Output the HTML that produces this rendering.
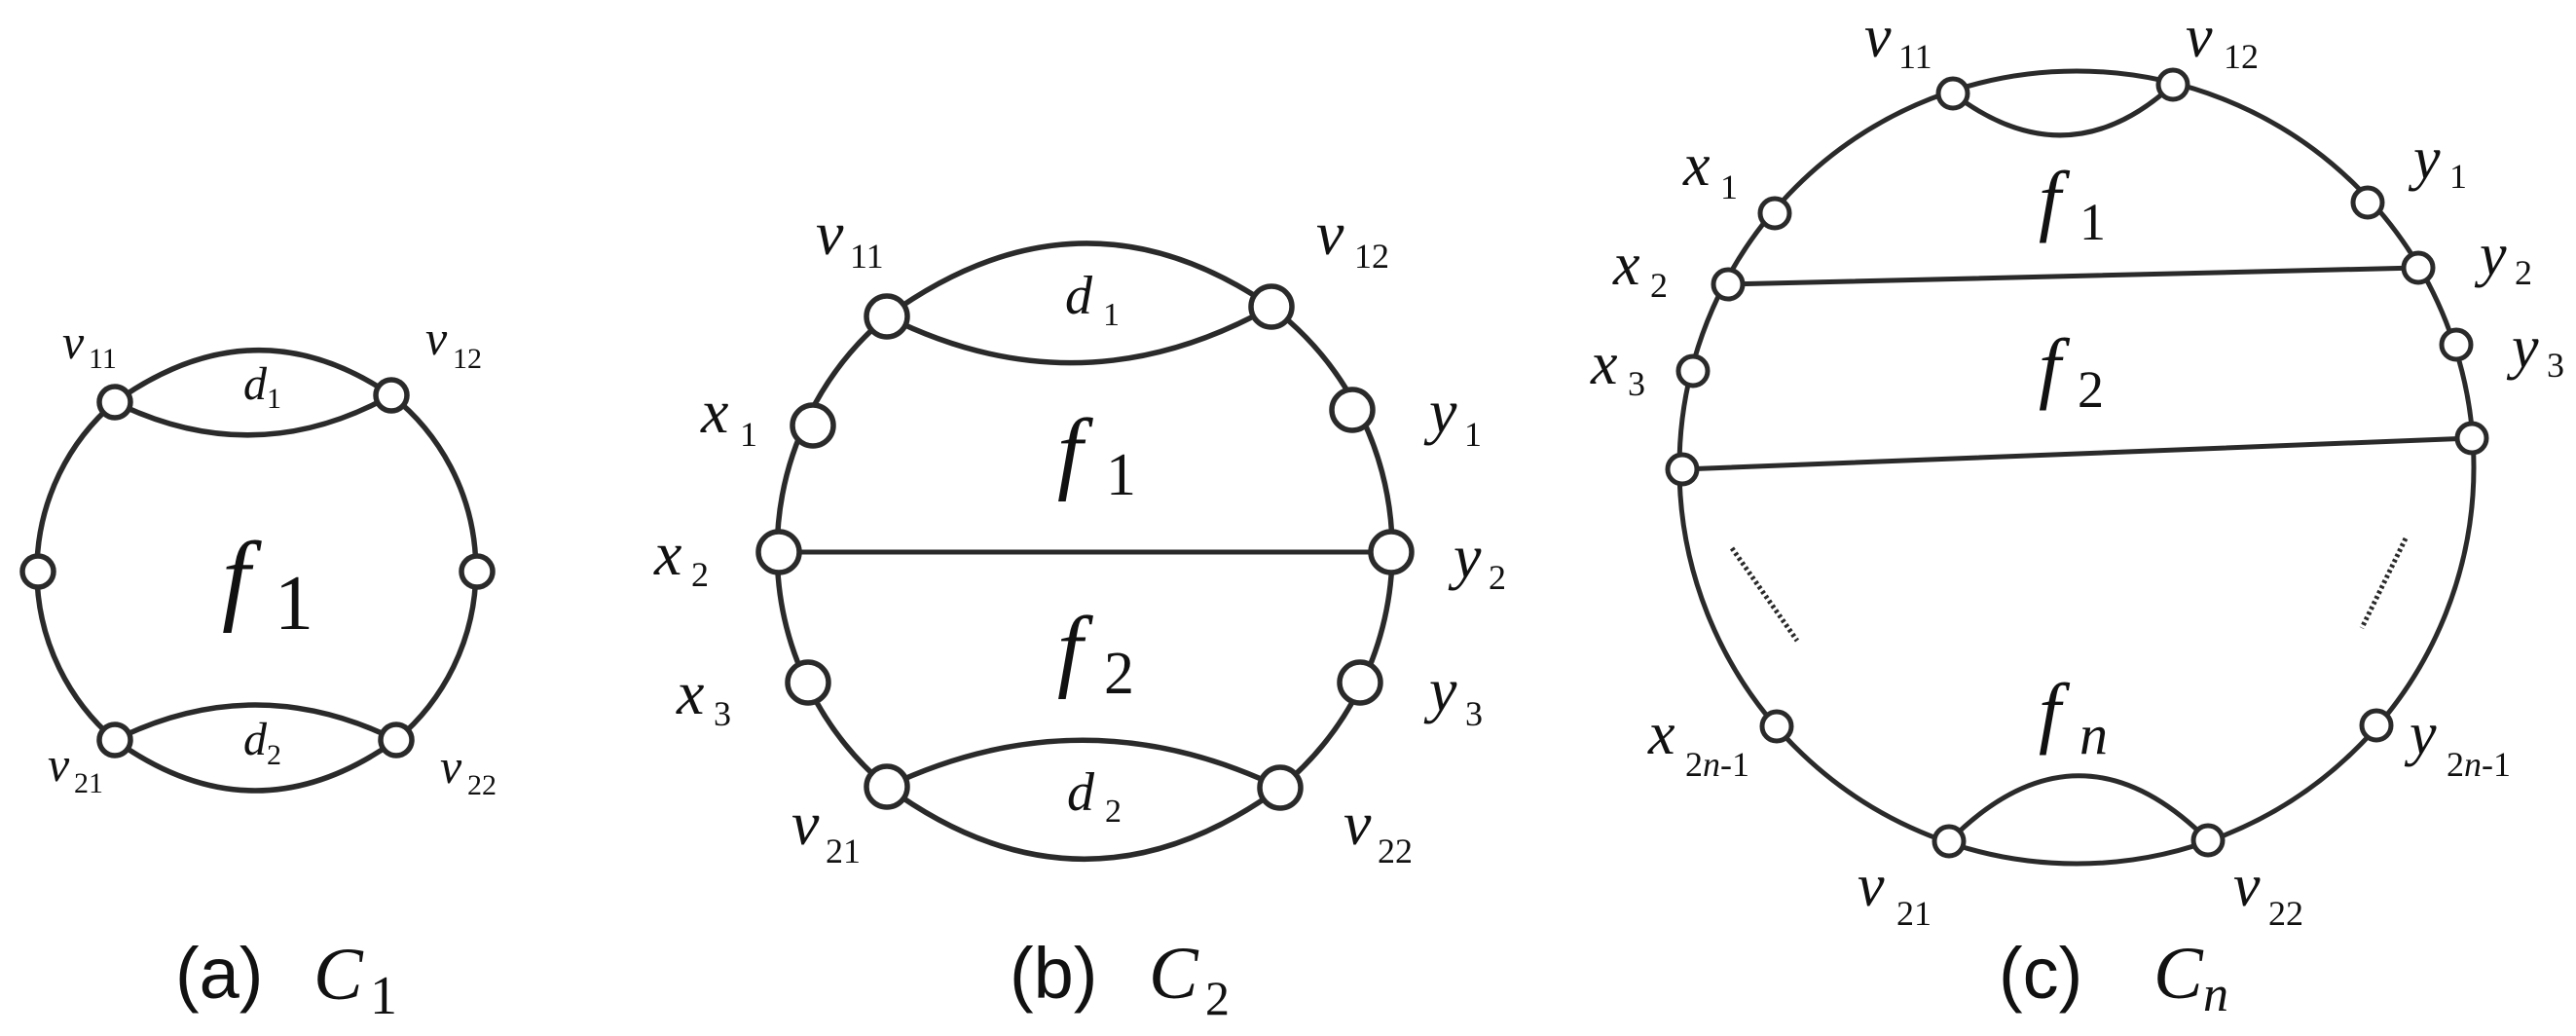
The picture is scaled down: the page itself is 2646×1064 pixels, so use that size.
<!DOCTYPE html>
<html><head><meta charset="utf-8"><style>
html,body{margin:0;padding:0;background:#fff;}
svg{display:block;}
svg text{font-family:"Liberation Serif","DejaVu Serif","Times New Roman",serif !important;font-style:italic;fill:#111;}
svg text.cap{font-family:"Liberation Sans","DejaVu Sans",Arial,sans-serif !important;font-style:normal;}
svg text.up{font-style:normal;}
</style></head><body>
<svg width="2646" height="1064" viewBox="0 0 2646 1064" xmlns="http://www.w3.org/2000/svg" font-family="Liberation Serif, DejaVu Serif, serif">
<g fill="none" stroke="#2a2a2a" stroke-width="5.5" stroke-linecap="round">
<path d="M118 413 A228 228 0 0 0 118 760"/>
<path d="M402 406 A228 228 0 0 1 407 760"/>
<path d="M118 413 Q262 310 402 406"/>
<path d="M118 413 Q262 484 402 406"/>
<path d="M118 760 Q262 688 407 760"/>
<path d="M118 760 Q262 864 407 760"/>
<path d="M911 325 A315 315 0 0 0 911 808"/>
<path d="M1306 315 A315 315 0 0 1 1315 809"/>
<path d="M911 325 Q1110 180 1306 315"/>
<path d="M911 325 Q1110 425 1306 315"/>
<path d="M911 808 Q1113 712 1315 809"/>
<path d="M911 808 Q1113 956 1315 809"/>
<path d="M800 567 L1429 567" stroke-width="5"/>
<ellipse cx="2133" cy="480" rx="408" ry="407" stroke-width="5"/>
<path d="M2006 96 Q2124 186 2232 87" stroke-width="5"/>
<path d="M2002 864 Q2135 730 2268 863" stroke-width="5"/>
<path d="M1775 292 L2484 275" stroke-width="5"/>
<path d="M1728 482 L2539 450" stroke-width="5"/>
<path d="M1779 563 L1846 658" stroke-width="5" stroke-dasharray="3 3" stroke-linecap="butt"/>
<path d="M2471 553 L2426 645" stroke-width="5" stroke-dasharray="3 3" stroke-linecap="butt"/>
</g>
<g fill="#fff" stroke="#2a2a2a" stroke-width="5.5">
<circle cx="118" cy="413" r="16"/><circle cx="402" cy="406" r="16"/>
<circle cx="39" cy="587" r="16"/><circle cx="490" cy="587" r="16"/>
<circle cx="118" cy="760" r="16"/><circle cx="407" cy="760" r="16"/>
<circle cx="911" cy="325" r="21"/><circle cx="1306" cy="315" r="21"/>
<circle cx="835" cy="437" r="21"/><circle cx="1389" cy="421" r="21"/>
<circle cx="800" cy="567" r="21"/><circle cx="1429" cy="567" r="21"/>
<circle cx="830" cy="701" r="21"/><circle cx="1397" cy="701" r="21"/>
<circle cx="911" cy="808" r="21"/><circle cx="1315" cy="809" r="21"/>
</g>
<g fill="#fff" stroke="#2a2a2a" stroke-width="5">
<circle cx="2006" cy="96" r="15"/><circle cx="2232" cy="87" r="15"/>
<circle cx="1823" cy="219" r="15"/><circle cx="1775" cy="292" r="15"/>
<circle cx="1739" cy="381" r="15"/><circle cx="1728" cy="482" r="15"/>
<circle cx="2432" cy="208" r="15"/><circle cx="2484" cy="275" r="15"/>
<circle cx="2523" cy="354" r="15"/><circle cx="2539" cy="450" r="15"/>
<circle cx="1825" cy="746" r="15"/><circle cx="2441" cy="745" r="15"/>
<circle cx="2002" cy="864" r="15"/><circle cx="2268" cy="863" r="15"/>
</g>

<text x="64" y="368" font-size="50">v</text><text x="91" y="378" font-size="30" class="up">11</text>
<text x="437" y="364" font-size="50">v</text><text x="465" y="378" font-size="30" class="up">12</text>
<text x="49" y="802" font-size="50">v</text><text x="76" y="814" font-size="30" class="up">21</text>
<text x="452" y="804" font-size="50">v</text><text x="480" y="816" font-size="30" class="up">22</text>
<text x="250" y="410" font-size="48">d</text><text x="274" y="419" font-size="30" class="up">1</text>
<text x="250" y="775" font-size="48">d</text><text x="274" y="785" font-size="30" class="up">2</text>
<text x="228" y="628" font-size="104">f</text><text x="282" y="646" font-size="80" class="up">1</text>
<text x="180" y="1025" font-size="74" class="cap">(a)</text>
<text x="322" y="1026" font-size="76">C</text><text x="380" y="1041" font-size="56" class="up">1</text>

<text x="838" y="261" font-size="64">v</text><text x="873" y="275" font-size="36" class="up">11</text>
<text x="1352" y="261" font-size="64">v</text><text x="1391" y="275" font-size="36" class="up">12</text>
<text x="720" y="444" font-size="64">x</text><text x="760" y="458" font-size="36" class="up">1</text>
<text x="1468" y="444" font-size="64">y</text><text x="1504" y="458" font-size="36" class="up">1</text>
<text x="672" y="590" font-size="64">x</text><text x="710" y="602" font-size="36" class="up">2</text>
<text x="1493" y="593" font-size="64">y</text><text x="1529" y="605" font-size="36" class="up">2</text>
<text x="695" y="733" font-size="64">x</text><text x="733" y="745" font-size="36" class="up">3</text>
<text x="1468" y="730" font-size="64">y</text><text x="1505" y="745" font-size="36" class="up">3</text>
<text x="813" y="867" font-size="64">v</text><text x="848" y="886" font-size="36" class="up">21</text>
<text x="1380" y="867" font-size="64">v</text><text x="1415" y="886" font-size="36" class="up">22</text>
<text x="1094" y="322" font-size="56">d</text><text x="1133" y="334" font-size="34" class="up">1</text>
<text x="1096" y="832" font-size="56">d</text><text x="1135" y="844" font-size="34" class="up">2</text>
<text x="1086" y="495" font-size="94">f</text><text x="1136" y="508" font-size="62" class="up">1</text>
<text x="1086" y="698" font-size="94">f</text><text x="1134" y="712" font-size="62" class="up">2</text>
<text x="1037" y="1025" font-size="74" class="cap">(b)</text>
<text x="1180" y="1025" font-size="76">C</text><text x="1238" y="1042" font-size="50" class="up">2</text>

<text x="1915" y="58" font-size="62">v</text><text x="1950" y="70" font-size="36" class="up">11</text>
<text x="2245" y="58" font-size="62">v</text><text x="2284" y="70" font-size="36" class="up">12</text>
<text x="1729" y="190" font-size="62">x</text><text x="1767" y="204" font-size="36" class="up">1</text>
<text x="1657" y="292" font-size="62">x</text><text x="1695" y="305" font-size="36" class="up">2</text>
<text x="1634" y="394" font-size="62">x</text><text x="1672" y="406" font-size="36" class="up">3</text>
<text x="2479" y="183" font-size="62">y</text><text x="2516" y="193" font-size="36" class="up">1</text>
<text x="2547" y="282" font-size="62">y</text><text x="2583" y="292" font-size="36" class="up">2</text>
<text x="2580" y="377" font-size="62">y</text><text x="2616" y="387" font-size="36" class="up">3</text>
<text x="1693" y="774" font-size="62">x</text><text x="1731" y="797" font-size="36" class="up">2<tspan style="font-style:italic">n</tspan>-1</text>
<text x="2475" y="774" font-size="62">y</text><text x="2513" y="797" font-size="36" class="up">2<tspan style="font-style:italic">n</tspan>-1</text>
<text x="1908" y="930" font-size="62">v</text><text x="1948" y="950" font-size="36" class="up">21</text>
<text x="2294" y="930" font-size="62">v</text><text x="2330" y="950" font-size="36" class="up">22</text>
<text x="2094" y="232" font-size="82">f</text><text x="2136" y="246" font-size="54" class="up">1</text>
<text x="2094" y="404" font-size="82">f</text><text x="2134" y="418" font-size="54" class="up">2</text>
<text x="2094" y="758" font-size="82">f</text><text x="2136" y="774" font-size="58">n</text>
<text x="2053" y="1025" font-size="74" class="cap">(c)</text>
<text x="2212" y="1025" font-size="76">C</text><text x="2263" y="1038" font-size="52">n</text>
</svg>
</body></html>
